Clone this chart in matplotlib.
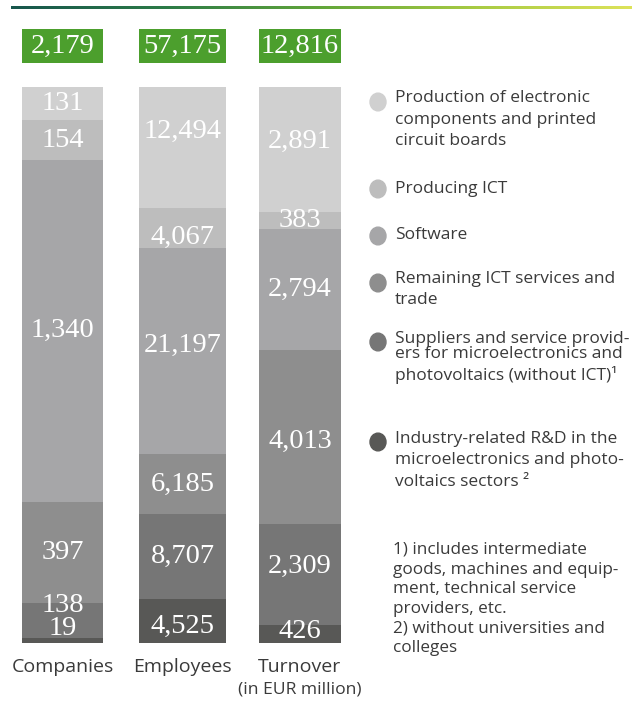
import numpy as np
import matplotlib
matplotlib.use("Agg")
import matplotlib.pyplot as plt
from matplotlib.colors import LinearSegmentedColormap
from matplotlib.patches import Circle

# ---------------- data ----------------
bar_names = ["Companies", "Employees", "Turnover"]
bar_subtitles = ["", "", "(in EUR million)"]
segment_names = [
    "Production of electronic\ncomponents and printed\ncircuit boards",
    "Producing ICT",
    "Software",
    "Remaining ICT services and\ntrade",
    "Suppliers and service provid-\ners for microelectronics and\nphotovoltaics (without ICT)¹",
    "Industry-related R&D in the\nmicroelectronics and photo-\nvoltaics sectors ²",
]
companies = [131, 154, 1340, 397, 138, 19]
employees = [12494, 4067, 21197, 6185, 8707, 4525]
turnover = [2891, 383, 2794, 4013, 2309, 426]
footnotes = [
    "1) includes intermediate",
    "goods, machines and equip-",
    "ment, technical service",
    "providers, etc.",
    "2) without universities and",
    "colleges",
]

# ---------------- style ----------------
W, H = 635, 703
seg_colors = ["#d0d0d0", "#bdbdbd", "#a6a6a8", "#8e8e8e", "#767676", "#585856"]
green = "#4c9f2d"
text_col = "#3a3a3a"
bar_centers = [62.5, 182.5, 300]
bar_widths = [81, 87, 82]
y0_px, y1_px = 643, 87          # pixel rows of share 0 and share 1
# label nudges in pixels (positive = up)
label_nudge = [
    [0, 0, 0, 0, 15, 12],
    [16, -9, 6, 0, 0, -5],
    [8, 0, 0, -4, 8, 2],
]

fig = plt.figure(figsize=(W / 100, H / 100), dpi=100)
fig.patch.set_facecolor("white")

ppu = y0_px - y1_px
ax = fig.add_axes([0, 0, 1, 1])
ax.set_xlim(0, W)
ax.set_ylim(-(H - y0_px) / ppu, 1 + y1_px / ppu)
ax.axis("off")


def fx(px):
    return px / W


def fy(py):
    return 1 - py / H


series = [companies, employees, turnover]
for i, vals in enumerate(series):
    vals = np.array(vals, dtype=float)
    total = vals.sum()
    shares = vals / total
    tops = 1 - np.concatenate([[0], np.cumsum(shares)[:-1]])
    bottoms = tops - shares
    for j in range(len(vals)):
        ax.bar(bar_centers[i], shares[j], bottom=bottoms[j], width=bar_widths[i],
               color=seg_colors[j], linewidth=0)
        yc = (tops[j] + bottoms[j]) / 2 + label_nudge[i][j] / ppu
        ax.text(bar_centers[i], yc, f"{int(vals[j]):,}", ha="center", va="center",
                color="white", fontsize=20.5, family="Liberation Serif")
    # green total box
    box_bottom = (y0_px - 63) / ppu
    box_h = 34 / ppu
    ax.bar(bar_centers[i], box_h, bottom=box_bottom, width=bar_widths[i],
           color=green, linewidth=0)
    ax.text(bar_centers[i], box_bottom + box_h / 2, f"{int(total):,}",
            ha="center", va="center", color="white", fontsize=20.5,
            family="Liberation Serif")
    # category labels
    fig.text(fx(bar_centers[i]), fy(667), bar_names[i], ha="center", va="center",
             fontsize=14, color=text_col, family="Open Sans")
    if bar_subtitles[i]:
        fig.text(fx(bar_centers[i]), fy(689), bar_subtitles[i], ha="center",
                 va="center", fontsize=12.6, color=text_col, family="Open Sans")

# legend
legend_circle_y = [102, 189, 236, 283, 342, 442]
legend_text_y = [98, 189, 235, 279, 339, 439]
for j, name in enumerate(segment_names):
    fig.patches.append(Circle((fx(378), fy(legend_circle_y[j])), 8 / W,
                              transform=fig.transFigure, color=seg_colors[j],
                              figure=fig))
    lines = name.split("\n")
    spacing = 21.5
    for k, ln in enumerate(lines):
        yy = legend_text_y[j] + k * spacing
        if j == 4 and k >= 1:
            yy = legend_text_y[j] + 15 + (k - 1) * 21.5
        fig.text(fx(395), fy(yy), ln, ha="left", va="center", fontsize=12.5,
                 color=text_col, family="Open Sans")

# footnotes
for k, ln in enumerate(footnotes):
    fig.text(fx(393), fy(550 + k * 19.6), ln, ha="left", va="center",
             fontsize=12.3, color=text_col, family="Open Sans")

# gradient header line
cmap = LinearSegmentedColormap.from_list(
    "hdr", ["#17564d", "#2c7b47", "#62a63a", "#a8cb43", "#dde35a"])
lax = fig.add_axes([fx(11), fy(9), fx(632) - fx(11), 3 / H])
lax.imshow(np.linspace(0, 1, 256)[None, :], aspect="auto", cmap=cmap)
lax.axis("off")

fig.savefig("out.png", dpi=100, facecolor="white")
